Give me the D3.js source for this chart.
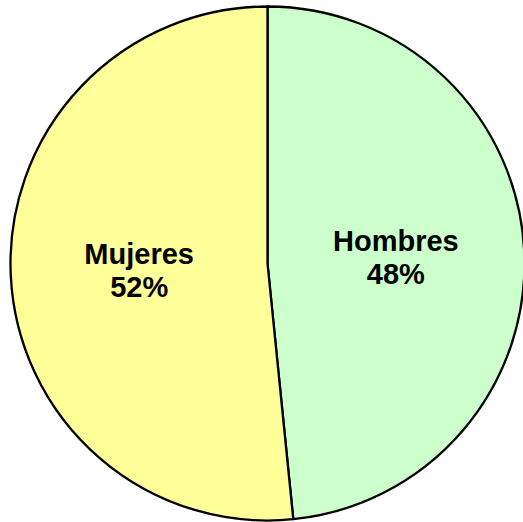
<!DOCTYPE html>
<html><head><meta charset="utf-8">
<script src="https://cdn.jsdelivr.net/npm/d3@7"></script>
<style>html,body{margin:0;padding:0;background:#fff;overflow:hidden}</style>
</head><body>
<svg id="c" width="523" height="522"></svg>
<script>
const categories = ["Hombres", "Mujeres"];
const values = [48.4, 51.6];
const colors = ["#CCFFCC", "#FFFF99"];

const svg = d3.select("#c");
const cx = 267.5, cy = 263.5, r = 257;
const g = svg.append("g").attr("transform", `translate(${cx},${cy})`);
const data = categories.map((c, i) => ({cat: c, value: values[i], color: colors[i]}));
const total = d3.sum(values);
const pie = d3.pie().sort(null).value(d => d.value);
const arc = d3.arc().innerRadius(0).outerRadius(r);
const arcs = pie(data);
g.selectAll("path").data(arcs).join("path")
  .attr("d", arc).attr("fill", d => d.data.color)
  .attr("stroke", "#000").attr("stroke-width", 2.3).attr("stroke-linejoin", "round");
const lab = g.selectAll("text").data(arcs).join("text")
  .attr("transform", d => `translate(${arc.centroid(d)})`)
  .attr("text-anchor", "middle")
  .attr("font-family", "Liberation Sans, Arial, sans-serif")
  .attr("font-weight", "bold").attr("font-size", 29).attr("fill", "#000");
lab.append("tspan").attr("x", 0).attr("y", -6).text(d => d.data.cat);
lab.append("tspan").attr("x", 0).attr("y", 27).text(d => Math.round(d.data.value / total * 100) + "%");
</script>
</body></html>
